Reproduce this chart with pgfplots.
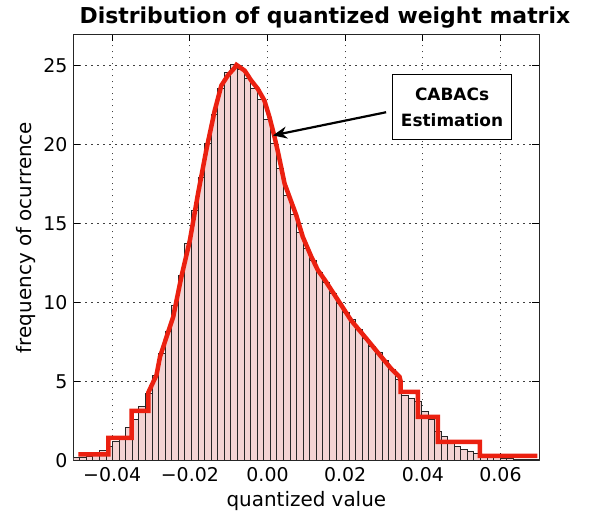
\documentclass[border=0pt]{standalone}
\usepackage{fontspec}
\setmainfont{DejaVu Sans}
\usepackage{pgfplots}
\pgfplotsset{compat=1.18}
\usetikzlibrary{arrows.meta}

\definecolor{barpink}{RGB}{243,211,211}
\definecolor{cabacred}{RGB}{235,32,16}

\begin{document}
\begin{tikzpicture}
\useasboundingbox (-73.4bp,-52.7bp) rectangle (522.6bp,460.3bp);
\begin{axis}[
    at={(0,0)}, anchor=south west,
    scale only axis,
    width=465.9bp, height=426bp,
    xmin=-0.05, xmax=0.07,
    ymin=0, ymax=27,
    scaled x ticks=false,
    xtick={-0.04,-0.02,0,0.02,0.04,0.06},
    xticklabels={−0.04,−0.02,0.00,0.02,0.04,0.06},
    ytick={0,5,10,15,20,25},
    /pgf/number format/assume math mode=true,
    tick align=inside,
    major tick length=7bp,
    tick style={black, line width=1bp},
    axis line style={black!85, line width=1.2bp},
    grid=major,
    grid style={black!75, line width=1bp, dash pattern=on 1.5bp off 4.5bp},
    tick label style={font=\fontsize{19}{22}\selectfont},
    xticklabel style={anchor=base, inner sep=0pt, yshift=-21.4bp},
    yticklabel style={anchor=east, inner sep=0pt, xshift=-5.7bp},
    xlabel={quantized value},
    ylabel={frequency of ocurrence},
    label style={font=\fontsize{20}{24}\selectfont},
    xlabel style={at={(axis description cs:0.5,-0.1089)}, anchor=base},
    ylabel style={at={(axis description cs:-0.0895,0.523)}, anchor=base},
]

% histogram of the quantized weights
\addplot[ybar interval, fill=barpink, draw=black!85, line width=0.8bp] coordinates {
(-0.05006,0.17) (-0.04837,0.19) (-0.04668,0.27) (-0.04498,0.44)
(-0.04329,0.61) (-0.04160,0.86) (-0.03991,1.18) (-0.03822,1.54)
(-0.03652,2.06) (-0.03483,2.59) (-0.03314,3.39) (-0.03145,4.25)
(-0.02976,5.40) (-0.02806,6.77) (-0.02637,8.20) (-0.02468,9.83)
(-0.02299,11.73) (-0.02130,13.77) (-0.01960,15.84) (-0.01791,17.95)
(-0.01622,20.10) (-0.01453,21.90) (-0.01284,23.54) (-0.01114,24.60)
(-0.00945,25.08) (-0.00776,24.77) (-0.00607,24.20) (-0.00438,23.60)
(-0.00268,22.85) (-0.00099,21.60) (0.00070,20.10) (0.00239,18.48)
(0.00408,16.79) (0.00578,15.59) (0.00747,14.47) (0.00916,13.42)
(0.01085,12.68) (0.01254,11.94) (0.01424,11.30) (0.01593,10.57)
(0.01762,9.94) (0.01931,9.40) (0.02100,8.92) (0.02270,8.29)
(0.02439,7.72) (0.02608,7.19) (0.02777,6.87) (0.02946,6.35)
(0.03116,5.76) (0.03285,5.10) (0.03454,4.13) (0.03623,3.95)
(0.03792,3.71) (0.03962,3.12) (0.04131,2.59) (0.04300,1.81)
(0.04469,1.49) (0.04638,1.07) (0.04808,0.86) (0.04977,0.71)
(0.05146,0.59) (0.05315,0.44) (0.05484,0.27) (0.05654,0.19)
(0.05823,0.17) (0.05992,0.12) (0.06161,0.10) (0.06330,0.07)
(0.06500,0.05) (0.06669,0.04) (0.06838,0.03) (0.07007,0)
};

% CABAC estimate
\addplot[cabacred, line width=4.5bp, no marks] coordinates {
(-0.0487,0.38) (-0.0410,0.38) (-0.0410,1.42) (-0.0350,1.42)
(-0.0350,3.14) (-0.0307,3.14) (-0.0307,4.30) (-0.0286,5.40)
(-0.0277,6.56) (-0.0243,9.09) (-0.0222,11.62) (-0.0200,13.94)
(-0.0179,16.90) (-0.0157,19.75) (-0.0136,22.17) (-0.0119,23.75)
(-0.0102,24.40) (-0.0085,24.87) (-0.0080,25.06) (-0.0059,24.70)
(-0.0042,24.07) (-0.0025,23.54) (-0.0008,22.80) (0.0005,21.75)
(0.0017,20.60) (0.0027,19.53) (0.0044,17.53) (0.0074,15.53)
(0.0091,14.15) (0.0113,12.89) (0.0130,12.04) (0.0147,11.45)
(0.0190,9.83) (0.0215,8.88) (0.0258,7.61) (0.0293,6.56)
(0.0318,5.82) (0.0340,5.29) (0.0343,5.00) (0.0343,4.34)
(0.0387,4.34) (0.0387,2.76) (0.0439,2.76) (0.0439,1.16)
(0.0547,1.16) (0.0547,0.28) (0.0695,0.28)
};

\draw[-{Stealth[length=14bp,width=12bp]}, line width=2.2bp]
    (axis cs:0.03054,22.06) -- (axis cs:0.00139,20.59);
\node[draw, line width=1.2bp, fill=white, align=center,
      minimum width=119bp, minimum height=65bp, inner sep=0pt,
      font=\bfseries\fontsize{17}{26}\selectfont]
    at (axis cs:0.04753,22.38) {CABACs\\Estimation};
\end{axis}
\node[anchor=base, font=\bfseries\fontsize{22}{26}\selectfont]
    at (251.5bp,436.3bp) {Distribution of quantized weight matrix};
\end{tikzpicture}
\end{document}
